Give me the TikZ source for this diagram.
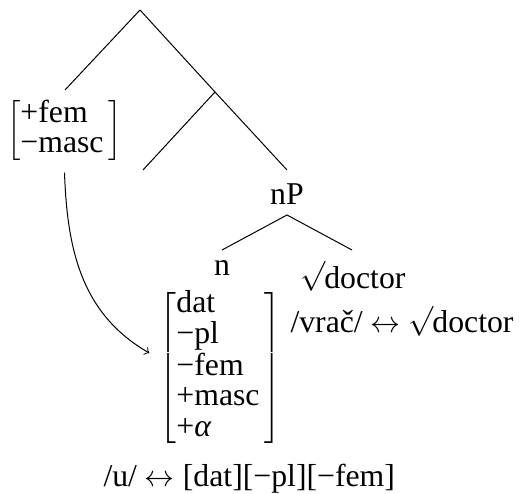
\documentclass[tikz,border=0pt]{standalone}
\usepackage{fontspec}
\setmainfont{Liberation Serif}
\usetikzlibrary{positioning,calc}

\newcommand{\rootsym}{$\sqrt{\vphantom{d}}$\kern-0.5pt}

\begin{document}
\begin{tikzpicture}[
 x=0.4pt, y=0.4pt,
 every node/.style={inner sep=0pt, font=\fontsize{12.7}{12.3}\selectfont},
 branch/.style={line width=0.4pt},
 arrow/.style={->, line width=0.4pt},
 label/.style={anchor=base west}
]
\useasboundingbox (0,0) rectangle (519,493);

% Tree points
\coordinate (top) at (140,483);
\coordinate (leftleaf) at (65,403);
\coordinate (mid) at (215,401);
\coordinate (midleaf) at (143,323);
\coordinate (nPtop) at (287,323);
\coordinate (nPlow) at (287,278);
\coordinate (nleaf) at (222,243);
\coordinate (rootleaf) at (352,243);

% Nodes
\node (femfeat) at (64.5,362) {$\left[\begin{tabular}{@{}l@{\hspace{2pt}}}+fem\\−masc\end{tabular}\right]$};
\node (nP) at (287,299) {nP};
\node (n) at (222,224.5) {n};
\node (root) at (353,217) {\rootsym doctor};
\node (nfeat) at (220.5,125) {$\left[\begin{tabular}{@{}l@{\hspace{2pt}}}dat\\−pl\\−fem\\+masc\\+\textit{α}\end{tabular}\right]$};
\node[label] (vrac) at (290,160) {/vrač/ $\leftrightarrow$ \rootsym doctor};
\node[label] (rule) at (103,7) {/u/ $\leftrightarrow$ [dat][−pl][−fem]};

% Branches
\draw[branch] (top) -- (leftleaf);
\draw[branch] (top) -- (mid) -- (nPtop);
\draw[branch] (mid) -- (midleaf);
\draw[branch] (nleaf) -- (nPlow) -- (rootleaf);

% Arrow
\draw[arrow] ([yshift=-4pt]femfeat.south) to[out=-88, in=150] ([xshift=-4pt, yshift=6pt]nfeat.west);

\end{tikzpicture}
\end{document}
